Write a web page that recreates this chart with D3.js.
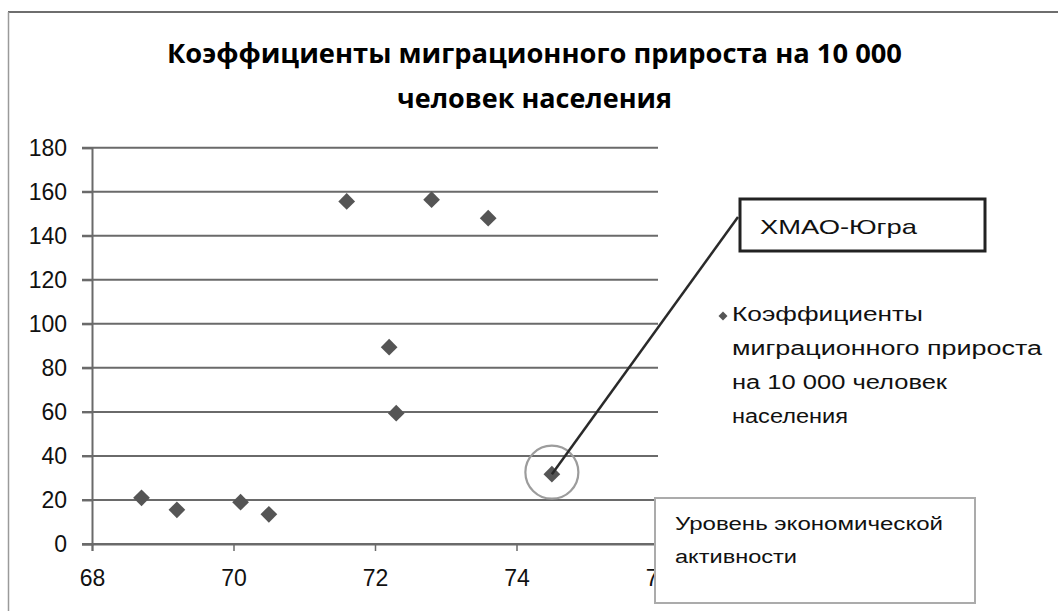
<!DOCTYPE html>
<html><head><meta charset="utf-8">
<script src="https://cdn.jsdelivr.net/npm/d3@7"></script>
<style>html,body{margin:0;padding:0;background:#fff}svg{display:block}</style>
</head><body>
<svg id="c" width="1058" height="611"></svg>
<script>
const titleLines = ["Коэффициенты миграционного прироста на 10 000", "человек населения"];
const activity = [68.7, 69.2, 70.1, 70.5, 71.6, 72.8, 73.6, 72.2, 72.3, 74.5];
const migration = [21, 15.5, 19, 13.5, 155.6, 156.4, 148, 89.4, 59.4, 31.7];
const xTicks = [68, 70, 72, 74, 76];
const yTicks = [0, 20, 40, 60, 80, 100, 120, 140, 160, 180];
const legendLines = ["Коэффициенты", "миграционного прироста", "на 10 000 человек", "населения"];
const calloutLabel = "ХМАО-Югра";
const calloutIndex = 9;
const xTitleLines = ["Уровень экономической", "активности"];

const svg = d3.select("#c");
const W = 1058, H = 611;
const plot = {l: 92, r: 658, t: 147.7, b: 544};
const x = d3.scaleLinear().domain([68, 76]).range([plot.l, plot.r]);
const y = d3.scaleLinear().domain([0, 180]).range([plot.b, plot.t]);
const FONT = "'Liberation Sans', Arial, sans-serif";
const grid = "#6a6a6a";

// outer frame
svg.append("line").attr("x1", 8).attr("x2", W).attr("y1", 12).attr("y2", 12).attr("stroke", "#6e6e6e").attr("stroke-width", 2);
svg.append("line").attr("x1", 8.5).attr("x2", 8.5).attr("y1", 12).attr("y2", H).attr("stroke", "#9a9a9a").attr("stroke-width", 1.5);

// title
const tW = [735, 275];
svg.selectAll("text.title").data(titleLines).join("text").attr("class", "title")
  .attr("x", 534.5).attr("y", (d, i) => 52 + i * 45)
  .attr("text-anchor", "middle").attr("dominant-baseline", "central")
  .attr("font-family", "'Open Sans', sans-serif").attr("font-weight", "bold").attr("font-size", 27)
  .attr("fill", "#000")
  .attr("textLength", (d, i) => tW[i]).attr("lengthAdjust", "spacingAndGlyphs")
  .text(d => d);

// gridlines
svg.append("g").selectAll("line").data(yTicks).join("line")
  .attr("x1", plot.l - 10).attr("x2", plot.r)
  .attr("y1", d => y(d)).attr("y2", d => y(d))
  .attr("stroke", grid).attr("stroke-width", 2);

// y axis
const yAxis = svg.append("g").attr("transform", `translate(${plot.l},0)`)
  .call(d3.axisLeft(y).tickValues(yTicks).tickSize(10).tickPadding(15).tickFormat(d3.format("d")));
yAxis.select(".domain").attr("stroke", grid).attr("stroke-width", 2);
yAxis.selectAll(".tick line").attr("stroke", grid).attr("stroke-width", 2);
yAxis.selectAll("text").attr("font-family", FONT).attr("font-size", 23).attr("fill", "#111");

// x axis
const xAxis = svg.append("g").attr("transform", `translate(0,${plot.b})`)
  .call(d3.axisBottom(x).tickValues(xTicks).tickSize(7).tickPadding(19).tickFormat(d3.format("d")));
xAxis.select(".domain").attr("stroke", grid).attr("stroke-width", 2);
xAxis.selectAll(".tick line").attr("stroke", grid).attr("stroke-width", 1.5);
xAxis.selectAll("text").attr("font-family", FONT).attr("font-size", 23).attr("fill", "#111");

// points
const pts = activity.map((v, i) => ({x: v, y: migration[i]}));
const diamond = d3.symbol(d3.symbolSquare, 140);
svg.append("g").selectAll("path").data(pts).join("path")
  .attr("d", diamond)
  .attr("transform", d => `translate(${x(d.x)},${y(d.y)}) rotate(45)`)
  .attr("fill", "#555");

// callout
const cp = pts[calloutIndex];
svg.append("circle").attr("cx", x(cp.x)).attr("cy", y(cp.y) - 2).attr("r", 26.5)
  .attr("fill", "none").attr("stroke", "#9c9c9c").attr("stroke-width", 2.2);
svg.append("line").attr("x1", x(cp.x)).attr("y1", y(cp.y))
  .attr("x2", 738).attr("y2", 217).attr("stroke", "#2a2a2a").attr("stroke-width", 2.5);
svg.append("rect").attr("x", 740).attr("y", 199).attr("width", 245).attr("height", 52)
  .attr("fill", "#fff").attr("stroke", "#222").attr("stroke-width", 3);
svg.append("text").attr("x", 760).attr("y", 226).attr("dominant-baseline", "central")
  .attr("font-family", FONT).attr("font-size", 21).attr("fill", "#111")
  .attr("textLength", 157).attr("lengthAdjust", "spacingAndGlyphs").text(calloutLabel);

// legend
const lg = svg.append("g");
lg.append("path").attr("d", d3.symbol(d3.symbolSquare, 40))
  .attr("transform", "translate(723,316) rotate(45)").attr("fill", "#555");
const lW = [191, 310, 215, 116];
lg.selectAll("text").data(legendLines).join("text")
  .attr("x", 732).attr("y", (d, i) => 314 + i * 34).attr("dominant-baseline", "central")
  .attr("font-family", FONT).attr("font-size", 20).attr("fill", "#111")
  .attr("textLength", (d, i) => lW[i]).attr("lengthAdjust", "spacingAndGlyphs")
  .text(d => d);

// x-axis title box
svg.append("rect").attr("x", 655).attr("y", 498).attr("width", 320).attr("height", 105)
  .attr("fill", "#fff").attr("stroke", "#ababab").attr("stroke-width", 2);
const xW = [268, 122];
svg.selectAll("text.xt").data(xTitleLines).join("text").attr("class", "xt")
  .attr("x", 675).attr("y", (d, i) => 524 + i * 33).attr("dominant-baseline", "central")
  .attr("font-family", FONT).attr("font-size", 18).attr("fill", "#111")
  .attr("textLength", (d, i) => xW[i]).attr("lengthAdjust", "spacingAndGlyphs")
  .text(d => d);
</script>
</body></html>
